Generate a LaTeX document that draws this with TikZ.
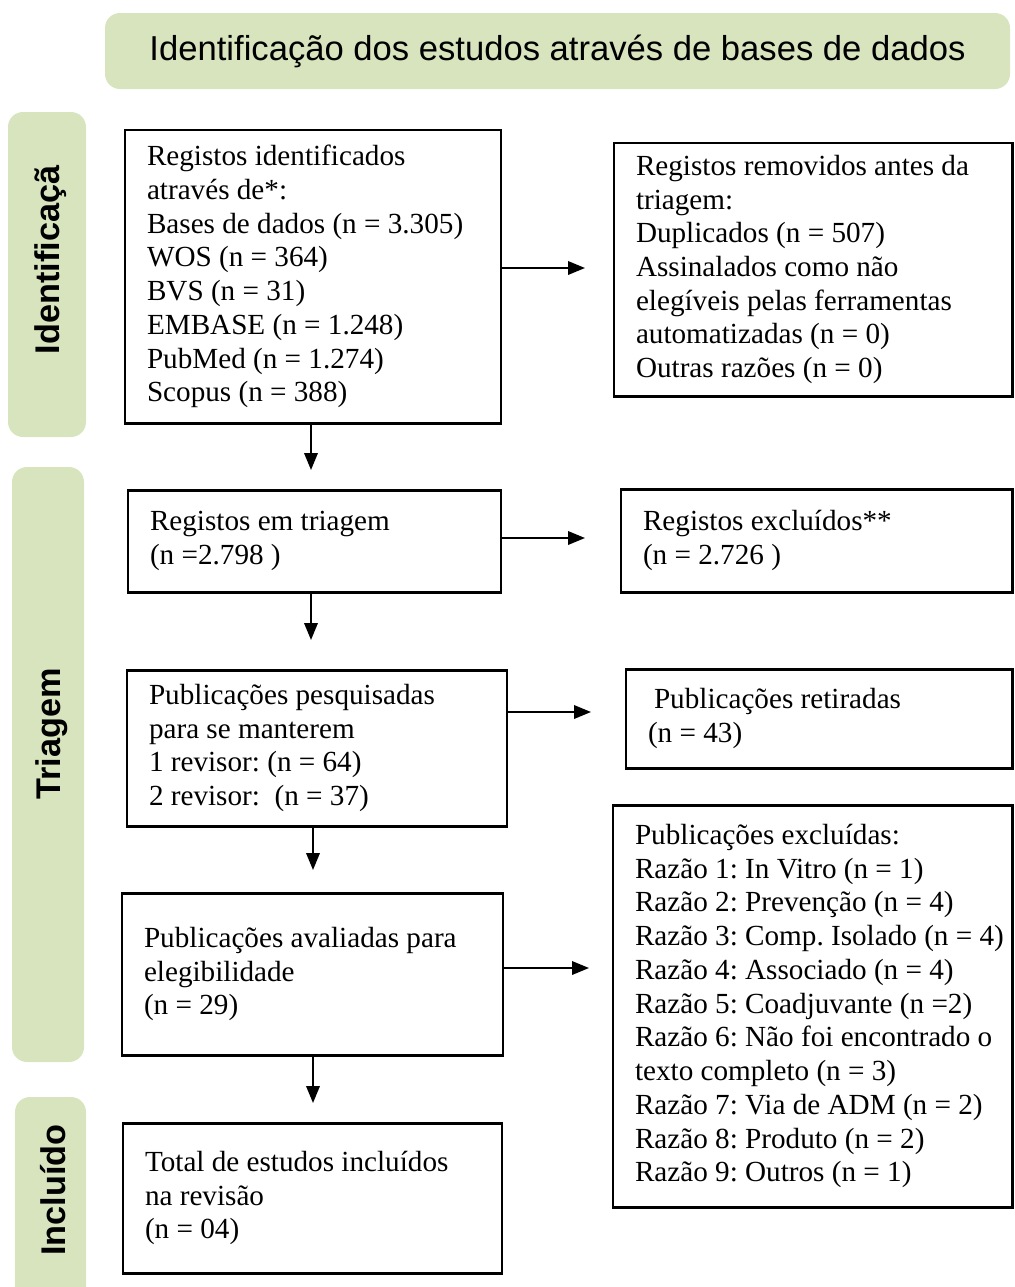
\documentclass[tikz,border=0pt]{standalone}
\usepackage{fontspec}
\setmainfont{Liberation Serif}
\setsansfont{Liberation Sans}
\usetikzlibrary{arrows.meta}
\definecolor{verde}{HTML}{D7E4BD}

\begin{document}
\begin{tikzpicture}
\tikzstyle{caixa}=[draw, line width=1.7pt, rectangle, inner xsep=0.44cm, text justified, font=\fontsize{16.6}{19.2}\selectfont\frenchspacing]
\tikzstyle{fase}=[fill=verde, rectangle, rounded corners=0.3cm, inner sep=0pt]
\tikzstyle{rotulo}=[rotate=90, inner sep=0pt, font=\sffamily\bfseries\fontsize{19.5}{22}\selectfont]
\tikzstyle{seta}=[line width=1.1pt, -{Triangle[length=0.34cm,width=0.27cm]}]
\useasboundingbox (0,0) rectangle (20.28,-25.74);
% fases
\node[fase, minimum width=18.10cm, minimum height=1.52cm, font=\sffamily\fontsize{19.7}{22}\selectfont] (cab) at (11.15, -1.02) {Identificação dos estudos através de bases de dados};
\node[fase, minimum width=1.56cm, minimum height=6.50cm] (f1) at (0.94, -5.49) {};
\node[fase, minimum width=1.44cm, minimum height=11.90cm] (f2) at (0.96, -15.29) {};
\node[fase, minimum width=1.42cm, minimum height=4.46cm] (f3) at (1.01, -24.17) {};
\node[rotulo] (r1) at (1.02, -5.20) {Identificaçã};
\node[rotulo] (r2) at (1.04, -14.68) {Triagem};
\node[rotulo] (r3) at (1.06, -23.80) {Incluído};
% caixas
\node[caixa, minimum width=7.52cm, minimum height=5.86cm, text width=6.64cm] (v1) at (6.26, -5.53) {Registos identificados\\ através de*:\\ Bases de dados (n = 3.305)\\ WOS (n = 364)\\ BVS (n = 31)\\ EMBASE (n = 1.248)\\ PubMed (n = 1.274)\\ Scopus (n = 388)};
\node[caixa, minimum width=7.96cm, minimum height=5.06cm, text width=7.08cm] (w1) at (16.26, -5.39) {Registos removidos antes da\\ triagem:\\ Duplicados (n = 507)\\ Assinalados como não\\ elegíveis pelas ferramentas\\ automatizadas (n = 0)\\ Outras razões (n = 0)};
\node[caixa, minimum width=7.46cm, minimum height=2.04cm, text width=6.58cm] (v2) at (6.29, -10.82) {Registos em triagem\\ (n =2.798 )};
\node[caixa, minimum width=7.82cm, minimum height=2.06cm, text width=6.94cm] (w2) at (16.33, -10.81) {Registos excluídos**\\ (n = 2.726 )};
\node[caixa, minimum width=7.60cm, minimum height=3.12cm, text width=6.72cm] (v3) at (6.34, -14.96) {Publicações pesquisadas\\ para se manterem\\ 1 revisor: (n = 64)\\ 2 revisor:~ (n = 37)};
\node[caixa, minimum width=7.72cm, minimum height=1.98cm, text width=6.84cm] (w3) at (16.38, -14.37) {\hspace*{0.12cm}Publicações retiradas\\ (n = 43)};
\node[caixa, minimum width=7.62cm, minimum height=3.24cm, text width=6.74cm] (v4) at (6.25, -19.48) {Publicações avaliadas para\\ elegibilidade\\ (n = 29)};
\node[caixa, minimum width=7.98cm, minimum height=8.04cm, text width=7.10cm] (w4) at (16.25, -20.12) {Publicações excluídas:\\ Razão 1: In Vitro (n = 1)\\ Razão 2: Prevenção (n = 4)\\ \mbox{Razão 3: Comp. Isolado (n = 4)}\\ Razão 4: Associado (n = 4)\\ Razão 5: Coadjuvante (n =2)\\ \mbox{Razão 6: Não foi encontrado o}\\ texto completo (n = 3)\\ Razão 7: Via de ADM (n = 2)\\ Razão 8: Produto (n = 2)\\ Razão 9: Outros (n = 1)};
\node[caixa, minimum width=7.58cm, minimum height=3.00cm, text width=6.70cm] (v5) at (6.25, -23.96) {Total de estudos incluídos\\ na revisão\\ (n = 04)};
% pontas das setas
\coordinate (p1) at (6.22, -9.40);
\coordinate (p2) at (6.22, -12.80);
\coordinate (p3) at (6.26, -17.40);
\coordinate (p4) at (6.26, -22.06);
\coordinate (q1) at (11.70, -5.36);
\coordinate (q2) at (11.70, -10.76);
\coordinate (q3) at (11.82, -14.24);
\coordinate (q4) at (11.78, -19.36);
\draw[seta] (v1.south -| p1) -- (p1);
\draw[seta] (v2.south -| p2) -- (p2);
\draw[seta] (v3.south -| p3) -- (p3);
\draw[seta] (v4.south -| p4) -- (p4);
\draw[seta] (v1.east |- q1) -- (q1);
\draw[seta] (v2.east |- q2) -- (q2);
\draw[seta] (v3.east |- q3) -- (q3);
\draw[seta] (v4.east |- q4) -- (q4);
\end{tikzpicture}
\end{document}
